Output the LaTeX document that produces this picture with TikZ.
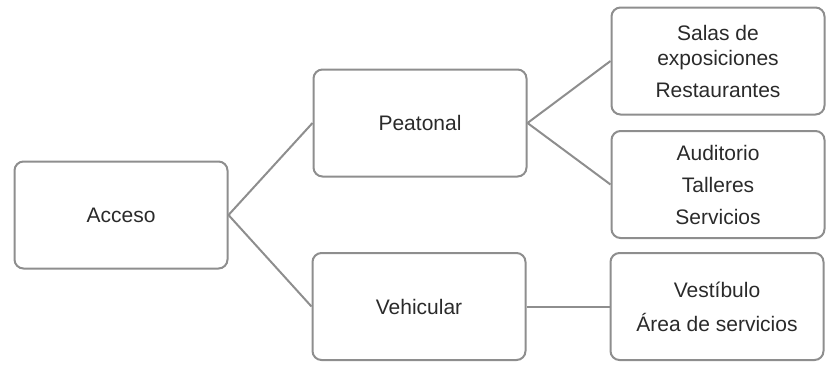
\documentclass[tikz,border=0pt]{standalone}
\usepackage{fontspec}
\setmainfont{Liberation Sans}
\usetikzlibrary{positioning}
\definecolor{boxgray}{HTML}{8E8E8E}
\definecolor{textgray}{HTML}{2A2A2A}
\tikzset{area/.style = {
    draw = boxgray,
    line width = 2pt,
    rounded corners = 9pt,
    minimum width = 213pt,
    minimum height = 107pt,
    align = center,
    text = textgray,
    font = \fontsize{21}{25}\selectfont
}}
\tikzset{link/.style = {
    draw = boxgray,
    line width = 2pt
}}

\begin{document}
\begin{tikzpicture}[x = 1pt, y = -1pt]
    \useasboundingbox
        (0, 0) rectangle (826, 370)
    ;

    % Boxes
    \node [area] (acceso) at (121, 215) {Acceso};
    \node [area] (peatonal) at (420, 123) {Peatonal};
    \node [area] (vehicular) at (419, 306.5) {Vehicular};
    \node [area] (salas) at (718, 61)
        {Salas de\\exposiciones\\[7pt]Restaurantes};
    \node [area] (auditorio) at (718, 184.5)
        {Auditorio\\[7pt]Talleres\\[7pt]Servicios};
    \node [area] (vestibulo) at (717, 306.5)
        {Vestíbulo\\[9pt]Área de servicios};

    % Lines
    \draw
        [link] (acceso.east) -- (peatonal.west)
    ;
    \draw
        [link] (acceso.east) -- (vehicular.west)
    ;
    \draw
        [link] (peatonal.east) -- (salas.west)
    ;
    \draw
        [link] (peatonal.east) -- (auditorio.west)
    ;
    \draw
        [link] (vehicular.east) -- (vestibulo.west)
    ;

\end{tikzpicture}
\end{document}
